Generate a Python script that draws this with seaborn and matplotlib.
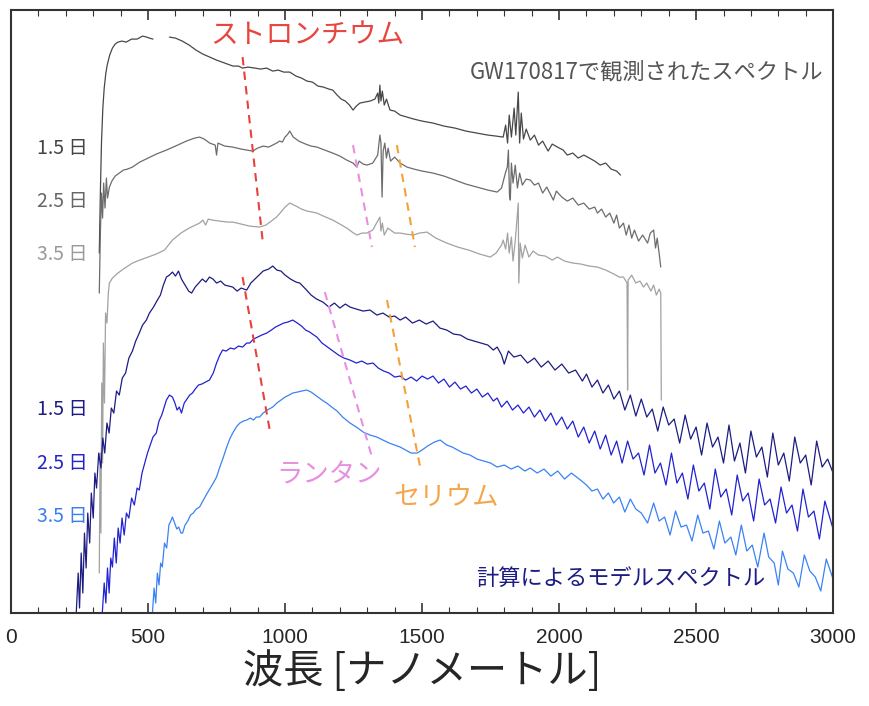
import matplotlib
matplotlib.use('Agg')
import matplotlib.pyplot as plt
from matplotlib.ticker import MultipleLocator
import seaborn as sns
import pandas as pd

# 観測スペクトル (GW170817) : 波長 [nm], 相対フラックス (オフセット付き)
obs15a_x = [322, 326, 330, 335, 340, 346, 351, 360, 370, 380, 390, 405, 420, 440, 460, 480, 495, 505, 518]
obs15a_y = [360, 420, 470, 505, 525, 540, 548, 558, 565, 569, 571, 572, 571, 574, 574, 577, 576, 575, 574]
obs15b_x = [578, 600, 625, 650, 675, 700, 725, 750, 770, 790, 810, 830, 845, 865, 890, 910, 933, 955, 975, 995,
            1017, 1040, 1060, 1080, 1100, 1120, 1140, 1160, 1174, 1190, 1205, 1220, 1235, 1248, 1260, 1273, 1290,
            1310, 1328, 1338, 1342, 1346, 1350, 1355, 1362, 1370, 1383, 1400, 1420, 1445, 1470, 1500, 1540, 1580,
            1620, 1660, 1700, 1740, 1770, 1796, 1805, 1812, 1818, 1826, 1836, 1842, 1851, 1856, 1862, 1870, 1880,
            1895, 1910, 1925, 1940, 1960, 1975, 1994, 2015, 2030, 2050, 2070, 2090, 2104, 2130, 2150, 2170, 2190,
            2210, 2224]
obs15b_y = [576, 575, 572, 568, 563, 559, 556, 553, 551, 549, 547, 547, 545, 546, 545, 544, 545, 542, 543, 541,
            541, 537, 535, 532, 531, 527, 526, 524, 523, 518, 514, 512, 508, 503, 507, 510, 511,
            512, 514, 520, 510, 528, 512, 522, 508, 514, 503, 502, 498, 496, 494, 492, 490, 487,
            485, 482, 480, 478, 477, 476, 488, 470, 498, 476, 505, 478, 521, 470, 500, 474, 484,
            473, 478, 468, 472, 462, 469, 466, 463, 458, 460, 455, 458, 456, 452, 448, 450, 444,
            442, 438]

obs25_x = [322, 326, 330, 334, 338, 343, 348, 352, 359, 368, 380, 395, 410, 425, 443, 470, 500, 530, 567, 600,
           640, 670, 688, 705, 725, 745, 750, 755, 780, 809, 840, 860, 882, 900, 920, 940, 955, 969, 980, 990,
           1000, 1010, 1017, 1030, 1050, 1075, 1095, 1116, 1145, 1174, 1200, 1225, 1248, 1262, 1270, 1285, 1299,
           1320, 1338, 1342, 1346, 1350, 1354, 1358, 1364, 1370, 1376, 1385, 1400, 1420, 1445, 1470, 1500, 1540,
           1580, 1620, 1660, 1700, 1740, 1774, 1790, 1804, 1811, 1815, 1819, 1822, 1826, 1832, 1840, 1848, 1856,
           1866, 1880, 1895, 1910, 1925, 1940, 1955, 1970, 1979, 1990, 2010, 2030, 2050, 2070, 2090, 2110, 2130,
           2140, 2155, 2170, 2185, 2200, 2210, 2220, 2235, 2245, 2255, 2265, 2275, 2290, 2305, 2323, 2333, 2345,
           2352, 2358, 2365, 2371]
obs25_y = [320, 380, 420, 395, 430, 405, 435, 415, 426, 432, 437, 440, 443, 444, 446, 451, 455, 459, 463, 467,
           472, 475, 476, 474, 470, 468, 458, 470, 467, 466, 464, 463, 462, 465, 467, 466, 468, 470, 472, 471,
           476, 479, 482, 476, 472, 469, 467, 466, 463, 460, 457, 453, 450, 446, 452, 449, 448,
           450, 458, 468, 478, 470, 416, 462, 470, 455, 465, 452, 456, 450, 446, 444, 442, 440,
           437, 433, 429, 426, 423, 421, 425, 440, 446, 463, 418, 413, 450, 430, 448, 425, 440,
           428, 434, 433, 428, 430, 420, 426, 418, 413, 422, 416, 412, 415, 408, 410, 404, 406,
           400, 404, 396, 400, 390, 398, 385, 390, 378, 388, 375, 383, 372, 378, 370, 380, 383,
           365, 375, 360, 346]

obs35_x = [322, 325, 328, 331, 334, 337, 341, 345, 350, 355, 359, 370, 390, 410, 443, 470, 500, 530, 560, 589,
           620, 650, 688, 700, 710, 720, 735, 760, 790, 809, 840, 870, 907, 930, 950, 969, 985, 1000, 1017, 1040,
           1060, 1080, 1100, 1116, 1140, 1174, 1200, 1225, 1250, 1262, 1280, 1299, 1320, 1338, 1346, 1350, 1355,
           1362, 1375, 1400, 1420, 1440, 1467, 1490, 1518, 1550, 1590, 1630, 1670, 1710, 1749, 1770, 1790, 1796,
           1805, 1812, 1818, 1826, 1832, 1840, 1851, 1853, 1858, 1866, 1876, 1890, 1905, 1925, 1950, 1975, 1994,
           2020, 2050, 2080, 2110, 2140, 2170, 2200, 2220, 2235, 2248, 2250, 2252, 2265, 2280, 2295, 2308, 2320,
           2335, 2345, 2355, 2365, 2371, 2373]
obs35_y = [40, 160, 80, 230, 150, 270, 210, 300, 290, 320, 330, 335, 340, 344, 350, 353, 356, 359, 363, 373,
           380, 385, 390, 393, 388, 394, 393, 392, 391, 391, 389, 387, 386, 388, 392, 396, 401, 406, 410, 407,
           404, 402, 401, 400, 397, 393, 389, 385, 380, 378, 380, 380, 383, 392, 396, 382, 390,
           378, 385, 380, 380, 379, 378, 380, 381, 375, 370, 366, 363, 359, 356, 360, 368, 373,
           364, 380, 360, 376, 352, 372, 410, 330, 370, 355, 368, 356, 362, 358, 357, 353, 356,
           352, 350, 349, 347, 346, 343, 339, 336, 336, 330, 223, 333, 338, 330, 332, 326, 330,
           322, 328, 318, 324, 320, 213]

# 計算によるモデルスペクトル
mod15_x = [238, 245, 250, 256, 262, 268, 274, 280, 287, 293, 300, 306, 312, 320, 328, 335, 342, 350, 358, 366,
           375, 385, 395, 406, 418, 430, 443, 455, 468, 480, 494, 505, 520, 532, 545, 556, 567, 578, 589, 600,
           611, 622, 635, 648, 659, 672, 685, 698, 711, 724, 737, 750, 765, 780, 795, 809, 825, 840, 860, 875,
           890, 905, 920, 940, 955, 970, 985, 1000, 1020, 1040, 1054, 1075, 1095, 1115, 1138, 1160, 1180, 1200,
           1220, 1237, 1260, 1285, 1310, 1335, 1357, 1380, 1400, 1420, 1440, 1465, 1490, 1515, 1540, 1565, 1590,
           1615, 1640, 1665, 1690, 1715, 1740, 1760, 1774, 1790, 1800, 1815, 1835, 1860, 1885, 1910, 1935, 1960,
           1985, 2010, 2035, 2060, 2085, 2100, 2120, 2140, 2160, 2180, 2200, 2220, 2240, 2260, 2280, 2300, 2320,
           2340, 2360, 2380, 2400, 2420, 2440, 2460, 2480, 2500, 2520, 2540, 2560, 2580, 2600, 2620, 2640, 2660,
           2680, 2700, 2720, 2740, 2760, 2780, 2800, 2820, 2840, 2860, 2880, 2900, 2920, 2940, 2960, 2980, 3000]
mod15_y = [0, 40, 5, 60, 20, 80, 45, 100, 70, 120, 95, 140, 125, 160, 145, 175, 160, 190, 180, 205,
           200, 222, 218, 235, 240, 255, 262, 272, 280, 288, 293, 300, 306, 312, 318, 328, 336, 338, 341, 337,
           342, 334, 328, 322, 320, 326, 330, 334, 331, 336, 334, 330, 332, 328, 327, 326, 322, 325, 323, 330,
           334, 338, 342, 344, 347, 343, 342, 338, 334, 331, 330, 324, 318, 314, 311, 306, 310, 305,
           309, 306, 304, 302, 303, 298, 300, 296, 297, 293, 296, 290, 293, 289, 292, 285, 283,
           279, 278, 274, 272, 270, 268, 263, 266, 258, 249, 262, 256, 258, 250, 255, 246, 252,
           243, 249, 240, 243, 232, 239, 226, 233, 220, 228, 214, 222,
           203, 218, 197, 214, 196, 204, 182, 206, 188, 194, 170, 198, 174, 186, 158, 190, 166, 176, 150, 188,
           152, 170, 140, 182, 156, 166, 136, 180, 148, 160, 132, 176, 150, 158, 128, 172, 146, 154, 140]

mod25_x = [333, 340, 346, 352, 358, 364, 370, 377, 384, 391, 398, 405, 413, 421, 430, 440, 450, 460, 468, 478,
           488, 498, 508, 518, 530, 540, 550, 558, 567, 578, 589, 598, 606, 614, 622, 632, 642, 652, 662, 672,
           684, 696, 710, 724, 738, 750, 762, 772, 785, 800, 815, 830, 845, 860, 871, 885, 900, 915, 933, 950,
           965, 980, 995, 1010, 1028, 1045, 1060, 1075, 1090, 1105, 1116, 1135, 1155, 1175, 1195, 1215, 1237,
           1260, 1280, 1300, 1321, 1340, 1360, 1380, 1400, 1420, 1440, 1460, 1480, 1500, 1520, 1540, 1560, 1580,
           1600, 1620, 1640, 1660, 1680, 1700, 1720, 1740, 1760, 1774, 1790, 1810, 1830, 1850, 1870, 1890, 1910,
           1930, 1950, 1970, 1990, 2010, 2030, 2050, 2070, 2090, 2110, 2130, 2150, 2170, 2190, 2210, 2230, 2250,
           2270, 2290, 2310, 2330, 2350, 2370, 2390, 2410, 2430, 2450, 2470, 2490, 2510, 2530, 2550, 2570, 2590,
           2610, 2630, 2650, 2670, 2690, 2710, 2730, 2750, 2770, 2790, 2810, 2830, 2850, 2870, 2890, 2910, 2930,
           2950, 2970, 3000]
mod25_y = [0, 30, 10, 45, 20, 55, 46, 75, 50, 85, 70, 95, 78, 100, 95, 115, 108, 125, 123, 140,
           150, 160, 168, 176, 180, 192, 198, 205, 213, 218, 216, 210, 203, 206, 200, 210, 214, 218, 220, 224,
           228, 229, 231, 233, 240, 250, 258, 263, 262, 265, 264, 267, 266, 270, 270, 274, 276, 278, 280, 283,
           286, 288, 290, 291, 293, 290, 287, 283, 281, 278, 276, 270, 266, 262, 258, 255, 253,
           250, 252, 249, 250, 245, 242, 240, 236, 237, 233, 236, 232, 237, 234, 237, 230, 234,
           226, 231, 224, 227, 220, 224, 216, 220, 212, 215, 206, 212, 203, 208, 200, 206, 196,
           203, 192, 200, 188, 196, 184, 192, 176, 186, 170, 182, 164, 178, 158, 172,
           150, 172, 154, 160, 138, 168, 140, 150, 128, 160, 130, 140, 114, 148, 122, 130, 104, 144, 116, 124,
           98, 138, 112, 120, 92, 134, 108, 114, 90, 126, 100, 108, 82, 124, 96, 102, 74, 112, 84]

mod35_x = [516, 522, 528, 534, 540, 546, 552, 560, 568, 576, 583, 589, 597, 605, 612, 620, 626, 635, 645, 655,
           665, 676, 688, 700, 712, 725, 738, 750, 762, 775, 787, 798, 809, 822, 835, 848, 860, 873, 885, 895,
           907, 920, 935, 955, 970, 985, 1000, 1015, 1028, 1045, 1060, 1079, 1095, 1110, 1125, 1140, 1152, 1170,
           1190, 1210, 1237, 1260, 1285, 1310, 1335, 1357, 1380, 1400, 1420, 1440, 1460, 1482, 1500, 1520, 1545,
           1566, 1590, 1610, 1630, 1650, 1675, 1700, 1725, 1750, 1774, 1800, 1825, 1850, 1875, 1895, 1920, 1945,
           1970, 1995, 2020, 2045, 2078, 2100, 2120, 2140, 2160, 2180, 2199, 2220, 2240, 2260, 2280, 2300, 2323,
           2345, 2365, 2385, 2405, 2425, 2445, 2465, 2485, 2506, 2525, 2545, 2565, 2585, 2605, 2627, 2645, 2665,
           2685, 2705, 2725, 2748, 2765, 2785, 2800, 2815, 2835, 2855, 2875, 2895, 2915, 2935, 2955, 2975, 3000]
mod35_y = [0, 25, 10, 40, 28, 50, 46, 70, 65, 88, 92, 96, 90, 84, 86, 80, 80, 88, 92, 98,
           100, 104, 106, 112, 118, 124, 130, 136, 146, 156, 166, 174, 180, 186, 190, 192, 193, 195, 193, 196,
           196, 200, 203, 206, 210, 213, 216, 218, 220, 221, 222, 223, 221, 218, 215, 212, 210, 206,
           202, 196, 190, 186, 181, 178, 176, 173, 170, 168, 166, 163, 160, 160, 163, 167, 171,
           173, 168, 166, 163, 160, 158, 154, 152, 150, 146, 148, 144, 147, 142, 145, 140, 144,
           137, 142, 134, 140, 133, 128, 122, 124, 114, 120, 110, 116,
           101, 114, 104, 100, 90, 110, 92, 96, 78, 102, 86, 88, 72, 98, 80, 82, 64, 92, 70, 76,
           58, 88, 62, 68, 46, 80, 56, 50, 28, 62, 44, 40, 26, 58, 42, 36, 22, 54, 34]

# 吸収線の目安 (破線): 始点と終点
sr_lines = [([845, 918], [556, 373]), ([845, 944], [336, 183])]
la_lines = [([1248, 1317], [468, 366]), ([1145, 1317], [321, 156])]
ce_lines = [([1408, 1474], [468, 366]), ([1372, 1493], [313, 146])]

colors = {
    'obs15': '#484848', 'obs25': '#6c6c6c', 'obs35': '#a2a2a2',
    'mod15': '#1c1c82', 'mod25': '#2222d2', 'mod35': '#3a82f6',
}

frames = []
for name, seg, xs, ys in [
    ('obs15', 0, obs15a_x, obs15a_y), ('obs15', 1, obs15b_x, obs15b_y),
    ('obs25', 0, obs25_x, obs25_y), ('obs35', 0, obs35_x, obs35_y),
    ('mod15', 0, mod15_x, mod15_y), ('mod25', 0, mod25_x, mod25_y),
    ('mod35', 0, mod35_x, mod35_y),
]:
    frames.append(pd.DataFrame({'wl': xs, 'flux': ys, 'series': name, 'seg': seg}))
df = pd.concat(frames, ignore_index=True)

sns.set_style('white')
plt.rcParams['font.family'] = ['Noto Sans CJK JP', 'DejaVu Sans']

fig = plt.figure(figsize=(8.69, 7.06), dpi=100)
ax = fig.add_axes([0.0127, 0.1317, 0.946, 0.854])

sns.lineplot(data=df, x='wl', y='flux', hue='series', units='seg', estimator=None,
             sort=False, palette=colors, linewidth=0.9, legend=False, ax=ax)

for lines, c in [(sr_lines, '#e8413c'), (la_lines, '#e88fe2'), (ce_lines, '#f2a23a')]:
    for xs, ys in lines:
        ax.plot(xs, ys, color=c, linestyle=(0, (4, 3)), linewidth=1.5)

ax.text(1083, 578, 'ストロンチウム', color='#e8453f', fontsize=20, ha='center', va='center')
ax.text(2963, 541, 'GW170817で観測されたスペクトル', color='#555555', fontsize=16, ha='right', va='center')
ax.text(1160, 138, 'ランタン', color='#e88fe2', fontsize=19, ha='center', va='center')
ax.text(1588, 116, 'セリウム', color='#f5a54a', fontsize=19, ha='center', va='center')
ax.text(2224, 35, '計算によるモデルスペクトル', color='#1c1c82', fontsize=16, ha='center', va='center')

for label, yv, c in [('1.5 日', 465, '#444444'), ('2.5 日', 412, '#666666'), ('3.5 日', 359, '#9a9a9a'),
                     ('1.5 日', 204, '#1c1c82'), ('2.5 日', 150, '#2424c8'), ('3.5 日', 97, '#3a80f0')]:
    ax.text(95, yv, label, color=c, fontsize=14, ha='left', va='center')

ax.set_xlim(0, 3000)
ax.set_ylim(0, 603)
ax.set_yticks([])
ax.xaxis.set_major_locator(MultipleLocator(500))
ax.xaxis.set_minor_locator(MultipleLocator(100))
ax.tick_params(axis='x', which='both', direction='in', top=True, bottom=True, color='#333333')
ax.tick_params(axis='x', which='major', length=7, width=1.2, labelsize=15, pad=11)
ax.tick_params(axis='x', which='minor', length=4, width=0.8)
for lab in ax.get_xticklabels():
    lab.set_family('Liberation Sans')
for sp in ax.spines.values():
    sp.set_color('#333333')
    sp.set_linewidth(1.5)

ax.set_xlabel('波長 [ナノメートル]', fontsize=29, labelpad=2)
ax.set_ylabel('')

fig.savefig('out.png', dpi=100)
